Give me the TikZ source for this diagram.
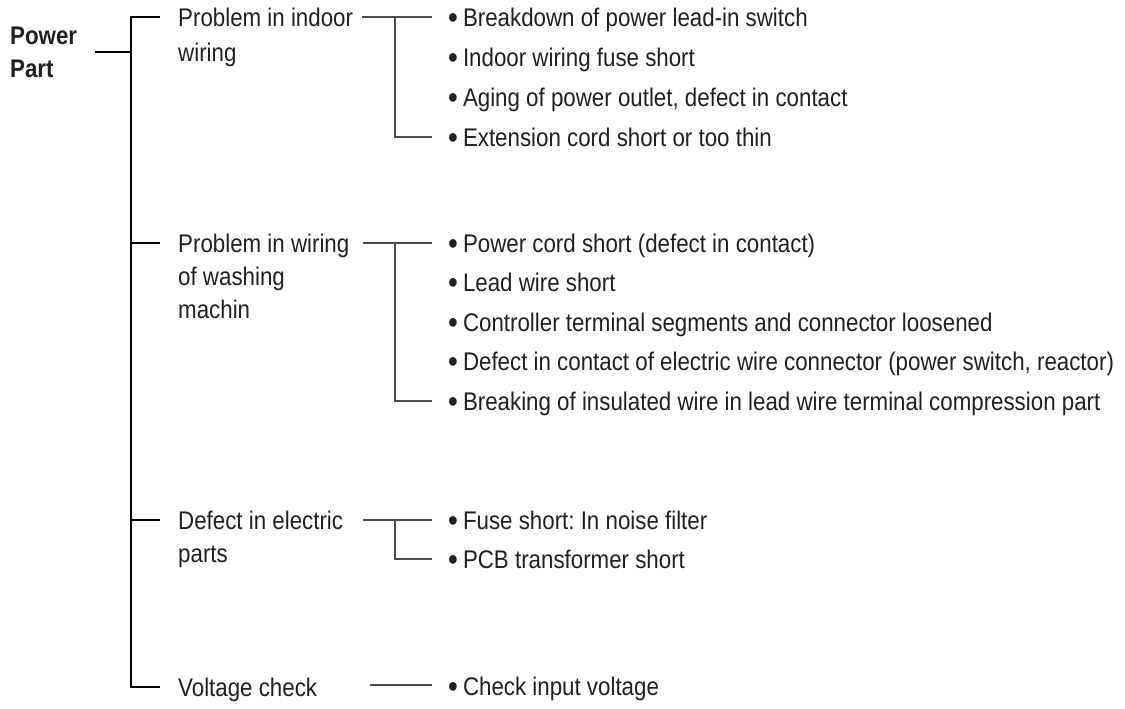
\documentclass[tikz,border=0pt]{standalone}
\usepackage{fontspec}
\setmainfont{Liberation Sans}[FakeStretch=0.875]
\definecolor{txt}{HTML}{231F20}
\frenchspacing
\newcommand\bul{\raisebox{-2.3pt}{\fontsize{32}{32}\selectfont •}\hspace{5pt}}
\begin{document}
\begin{tikzpicture}[x=1pt,y=-1pt,
  lbl/.style={anchor=base west, inner sep=0pt, align=left, text=txt, font=\fontsize{25.5}{34}\selectfont},
  trunk/.style={line width=2.4pt, draw=black},
  twig/.style={line width=1.2pt, draw=black!70}]
\useasboundingbox (0,0) rectangle (1125,709);
% root (base anchor = baseline of the last line)
\node[lbl, font=\bfseries\fontsize{25.5}{33}\selectfont] (power) at (10,77.1) {Power\\Part};
\coordinate (pw) at (95,52);
\coordinate (tPow) at (131,52);
\coordinate (tTop) at (131,17);
\coordinate (tBot) at (131,687);
\coordinate (b1) at (160,17);
\coordinate (b2) at (160,243);
\coordinate (b3) at (160,520);
\coordinate (b4) at (160,687);
\draw[trunk] (pw) -- (tPow);
\draw[trunk] (b1) -- (tTop) -- (tBot) -- (b4);
\draw[trunk] (b2 -| tTop) -- (b2);
\draw[trunk] (b3 -| tTop) -- (b3);
% categories
\node[lbl, font=\fontsize{25.5}{35}\selectfont] (c1) at (178,61.1) {Problem in indoor\\wiring};
\node[lbl, font=\fontsize{25.5}{33}\selectfont] (c2) at (178,318.1) {Problem in wiring\\of washing\\machin};
\node[lbl, font=\fontsize{25.5}{33}\selectfont] (c3) at (178,562.1) {Defect in electric\\parts};
\node[lbl] (c4) at (178,696.1) {Voltage check};
% group 1
\node[lbl] (i11) at (448,26.1) {\bul Breakdown of power lead-in switch};
\node[lbl] (i12) at (448,66.1) {\bul Indoor wiring fuse short};
\node[lbl] (i13) at (448,106.1) {\bul Aging of power outlet, defect in contact};
\node[lbl] (i14) at (448,146.1) {\bul Extension cord short or too thin};
\coordinate (s1) at (362,17);
\coordinate (j1) at (395,17);
\coordinate (e1) at (432,17);
\coordinate (l1) at (432,137);
\draw[twig] (s1) -- (e1);
\draw[twig] (j1) |- (l1);
% group 2
\node[lbl] (i21) at (448,252.1) {\bul Power cord short (defect in contact)};
\node[lbl] (i22) at (448,291.1) {\bul Lead wire short};
\node[lbl] (i23) at (448,331.1) {\bul Controller terminal segments and connector loosened};
\node[lbl] (i24) at (448,370.1) {\bul Defect in contact of electric wire connector (power switch, reactor)};
\node[lbl] (i25) at (448,410.1) {\bul Breaking of insulated wire in lead wire terminal compression part};
\coordinate (s2) at (363,243);
\coordinate (j2) at (395,243);
\coordinate (e2) at (432,243);
\coordinate (l2) at (432,401);
\draw[twig] (s2) -- (e2);
\draw[twig] (j2) |- (l2);
% group 3
\node[lbl] (i31) at (448,529.1) {\bul Fuse short: In noise filter};
\node[lbl] (i32) at (448,568.1) {\bul PCB transformer short};
\coordinate (s3) at (363,520);
\coordinate (j3) at (395,520);
\coordinate (e3) at (432,520);
\coordinate (l3) at (432,559);
\draw[twig] (s3) -- (e3);
\draw[twig] (j3) |- (l3);
% group 4
\node[lbl] (i41) at (448,695.1) {\bul Check input voltage};
\coordinate (s4) at (370,685);
\coordinate (e4) at (432,685);
\draw[twig] (s4) -- (e4);
\end{tikzpicture}
\end{document}
